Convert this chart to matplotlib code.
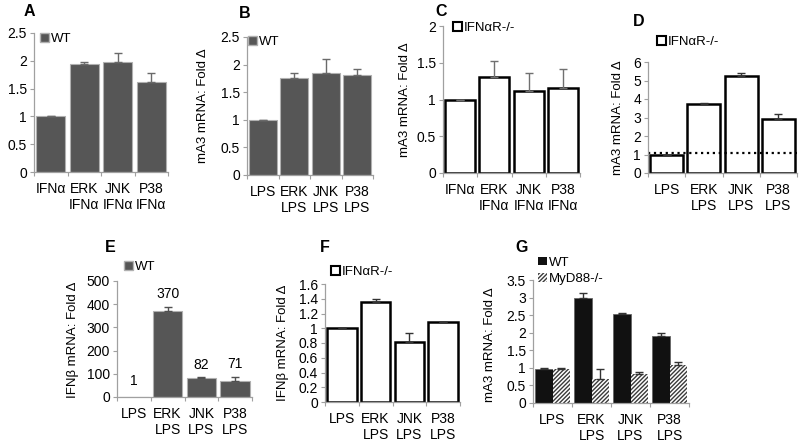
import matplotlib
matplotlib.use('Agg')
import matplotlib.pyplot as plt
from matplotlib.patches import Patch

plt.rcParams['font.family'] = ['Liberation Sans', 'DejaVu Sans']
plt.rcParams['font.size'] = 9
plt.rcParams['hatch.linewidth'] = 1.0

W, H = 800, 442

# ---- data ----
labels_ifn = ['IFNα', 'ERK\nIFNα', 'JNK\nIFNα', 'P38\nIFNα']
labels_lps = ['LPS', 'ERK\nLPS', 'JNK\nLPS', 'P38\nLPS']

a_vals = [1.0, 1.94, 1.97, 1.61]
a_err = [0.005, 0.03, 0.17, 0.17]

b_vals = [1.0, 1.75, 1.85, 1.81]
b_err = [0.005, 0.10, 0.25, 0.11]

c_vals = [1.0, 1.31, 1.12, 1.15]
c_err = [0.0, 0.22, 0.24, 0.26]

d_vals = [1.0, 3.72, 5.27, 2.92]
d_err = [0.0, 0.08, 0.15, 0.25]
d_baseline = 1.08

e_vals = [1, 370, 82, 71]
e_err = [0, 20, 3, 15]
e_text = ['1', '370', '82', '71']

f_vals = [1.0, 1.36, 0.82, 1.08]
f_err = [0.0, 0.03, 0.12, 0.01]

g_wt = [0.97, 2.98, 2.52, 1.90]
g_wt_err = [0.03, 0.15, 0.04, 0.10]
g_myd = [0.98, 0.68, 0.82, 1.07]
g_myd_err = [0.02, 0.30, 0.05, 0.10]

ylabel_ma3 = 'mA3 mRNA: Fold Δ'
ylabel_ifnb = 'IFNβ mRNA: Fold Δ'

fig = plt.figure(figsize=(W / 100, H / 100), dpi=100)


def make_ax(x0, x1, ytop, ybot, ymax, yticks, ticklabels, xlabels):
    ax = fig.add_axes([x0 / W, 1 - ybot / H, (x1 - x0) / W, (ybot - ytop) / H])
    ax.set_xlim(-0.5, 3.5)
    ax.set_ylim(0, ymax)
    for s in ['top', 'right']:
        ax.spines[s].set_visible(False)
    for s in ['left', 'bottom']:
        ax.spines[s].set_color('#a0a0a0')
        ax.spines[s].set_linewidth(0.9)
    ax.set_yticks(yticks)
    ax.set_yticklabels(ticklabels)
    ax.tick_params(axis='y', length=3, color='#a0a0a0', pad=2, labelsize=10)
    # separators between categories
    ax.set_xticks([-0.5, 0.5, 1.5, 2.5, 3.5])
    ax.set_xticklabels([])
    ax.tick_params(axis='x', which='major', length=3, color='#a0a0a0')
    ax.set_xticks([0, 1, 2, 3], minor=True)
    ax.set_xticklabels(xlabels, minor=True)
    ax.tick_params(axis='x', which='minor', length=0, pad=7, labelsize=10)
    return ax


def letter(x, y, s):
    fig.text(x / W, 1 - y / H, s, fontsize=11.5, fontweight='bold', ha='center', va='center')


def ylab(x, y, s):
    fig.text(x / W, 1 - y / H, s, rotation=90, ha='center', va='center', fontsize=9.5)


def legend(ax, handles, names, x, y, spacing=0.3):
    ax.legend(handles, names, loc='center left', bbox_to_anchor=(x / W, 1 - y / H),
              bbox_transform=fig.transFigure, frameon=False, borderpad=0, borderaxespad=0,
              handlelength=0.65, handleheight=0.65, handletextpad=0.15, labelspacing=spacing,
              fontsize=9.5)


gray_kw = dict(color='#565656', edgecolor='#b0b0b0', linewidth=0.8)
white_kw = dict(color='white', edgecolor='black', linewidth=1.8)
x = [0, 1, 2, 3]

# ---- A ----
ax = make_ax(34, 168, 33, 172, 2.5, [0, 0.5, 1, 1.5, 2, 2.5], ['0', '0.5', '1', '1.5', '2', '2.5'], labels_ifn)
ax.bar(x, a_vals, 0.88, **gray_kw)
ax.errorbar(x, a_vals, yerr=[[0] * 4, a_err], fmt='none', ecolor='#6a6a6a', capsize=3, elinewidth=1)
legend(ax, [Patch(facecolor='#565656', edgecolor='#b0b0b0')], ['WT'], 40, 39)
letter(29, 12, 'A')

# ---- B ----
ax = make_ax(247, 373, 37, 175, 2.5, [0, 0.5, 1, 1.5, 2, 2.5], ['0', '0.5', '1', '1.5', '2', '2.5'], labels_lps)
ax.bar(x, b_vals, 0.88, **gray_kw)
ax.errorbar(x, b_vals, yerr=[[0] * 4, b_err], fmt='none', ecolor='#6a6a6a', capsize=3, elinewidth=1)
legend(ax, [Patch(facecolor='#565656', edgecolor='#b0b0b0')], ['WT'], 248, 42)
ylab(203, 106, ylabel_ma3)
letter(245, 13, 'B')

# ---- C ----
ax = make_ax(443, 580, 26, 173, 2, [0, 0.5, 1, 1.5, 2], ['0', '0.5', '1', '1.5', '2'], labels_ifn)
ax.errorbar(x, c_vals, yerr=[[0] * 4, c_err], fmt='none', ecolor='#707070', capsize=3, elinewidth=1)
ax.bar(x, c_vals, 0.88, **white_kw)
legend(ax, [Patch(facecolor='white', edgecolor='black', linewidth=1.5)], ['IFNαR-/-'], 453, 28)
ylab(405, 100, ylabel_ma3)
letter(441, 12, 'C')

# ---- D ----
ax = make_ax(648, 797, 62, 173, 6, [0, 1, 2, 3, 4, 5, 6], ['0', '1', '2', '3', '4', '5', '6'], labels_lps)
ax.errorbar(x, d_vals, yerr=[[0] * 4, d_err], fmt='none', ecolor='#333333', capsize=3, elinewidth=1)
ax.bar(x, d_vals, 0.88, **white_kw)
ax.axhline(d_baseline, color='black', linestyle=':', linewidth=1.6)
legend(ax, [Patch(facecolor='white', edgecolor='black', linewidth=1.5)], ['IFNαR-/-'], 657, 42)
ylab(618, 118, ylabel_ma3)
letter(639, 22, 'D')

# ---- E ----
ax = make_ax(117, 252, 281, 397, 500, [0, 100, 200, 300, 400, 500],
             ['0', '100', '200', '300', '400', '500'], labels_lps)
ax.bar(x, e_vals, 0.88, **gray_kw)
ax.errorbar(x[1:], e_vals[1:], yerr=[[0] * 3, e_err[1:]], fmt='none', ecolor='#505050', capsize=3, elinewidth=1)
for xi, v, er, t in zip(x, e_vals, e_err, e_text):
    ax.annotate(t, (xi, v + er), xytext=(0, 6 if xi == 0 else 4), textcoords='offset points',
                ha='center', va='bottom', fontsize=10)
legend(ax, [Patch(facecolor='#565656', edgecolor='#b0b0b0')], ['WT'], 124, 267)
ylab(73, 340, ylabel_ifnb)
letter(110, 248, 'E')

# ---- F ----
ax = make_ax(325, 460, 284, 402, 1.6, [0, 0.2, 0.4, 0.6, 0.8, 1, 1.2, 1.4, 1.6],
             ['0', '0.2', '0.4', '0.6', '0.8', '1', '1.2', '1.4', '1.6'], labels_lps)
ax.errorbar(x, f_vals, yerr=[[0] * 4, f_err], fmt='none', ecolor='#333333', capsize=3, elinewidth=1)
ax.bar(x, f_vals, 0.88, **white_kw)
legend(ax, [Patch(facecolor='white', edgecolor='black', linewidth=1.5)], ['IFNαR-/-'], 331, 272)
ylab(283, 343, ylabel_ifnb)
letter(325, 248, 'F')

# ---- G ----
ax = make_ax(533, 689, 280, 403, 3.5, [0, 0.5, 1, 1.5, 2, 2.5, 3, 3.5],
             ['0', '0.5', '1', '1.5', '2', '2.5', '3', '3.5'], labels_lps)
xw = [xi - 0.23 for xi in x]
xm = [xi + 0.23 for xi in x]
ax.bar(xw, g_wt, 0.46, color='#111111', edgecolor='#666666', linewidth=0.6)
ax.bar(xm, g_myd, 0.46, color='white', edgecolor='#3a3a3a', linewidth=0, hatch='////////')
ax.errorbar(xw, g_wt, yerr=[[0] * 4, g_wt_err], fmt='none', ecolor='#333333', capsize=3, elinewidth=1)
ax.errorbar(xm, g_myd, yerr=[[0] * 4, g_myd_err], fmt='none', ecolor='#333333', capsize=3, elinewidth=1)
legend(ax, [Patch(facecolor='#111111'), Patch(facecolor='white', edgecolor='#3a3a3a', hatch='////////', linewidth=0)],
       ['WT', 'MyD88-/-'], 538, 271, spacing=0.35)
ylab(490, 345, ylabel_ma3)
letter(522, 248, 'G')

fig.savefig('out.png', dpi=100)
